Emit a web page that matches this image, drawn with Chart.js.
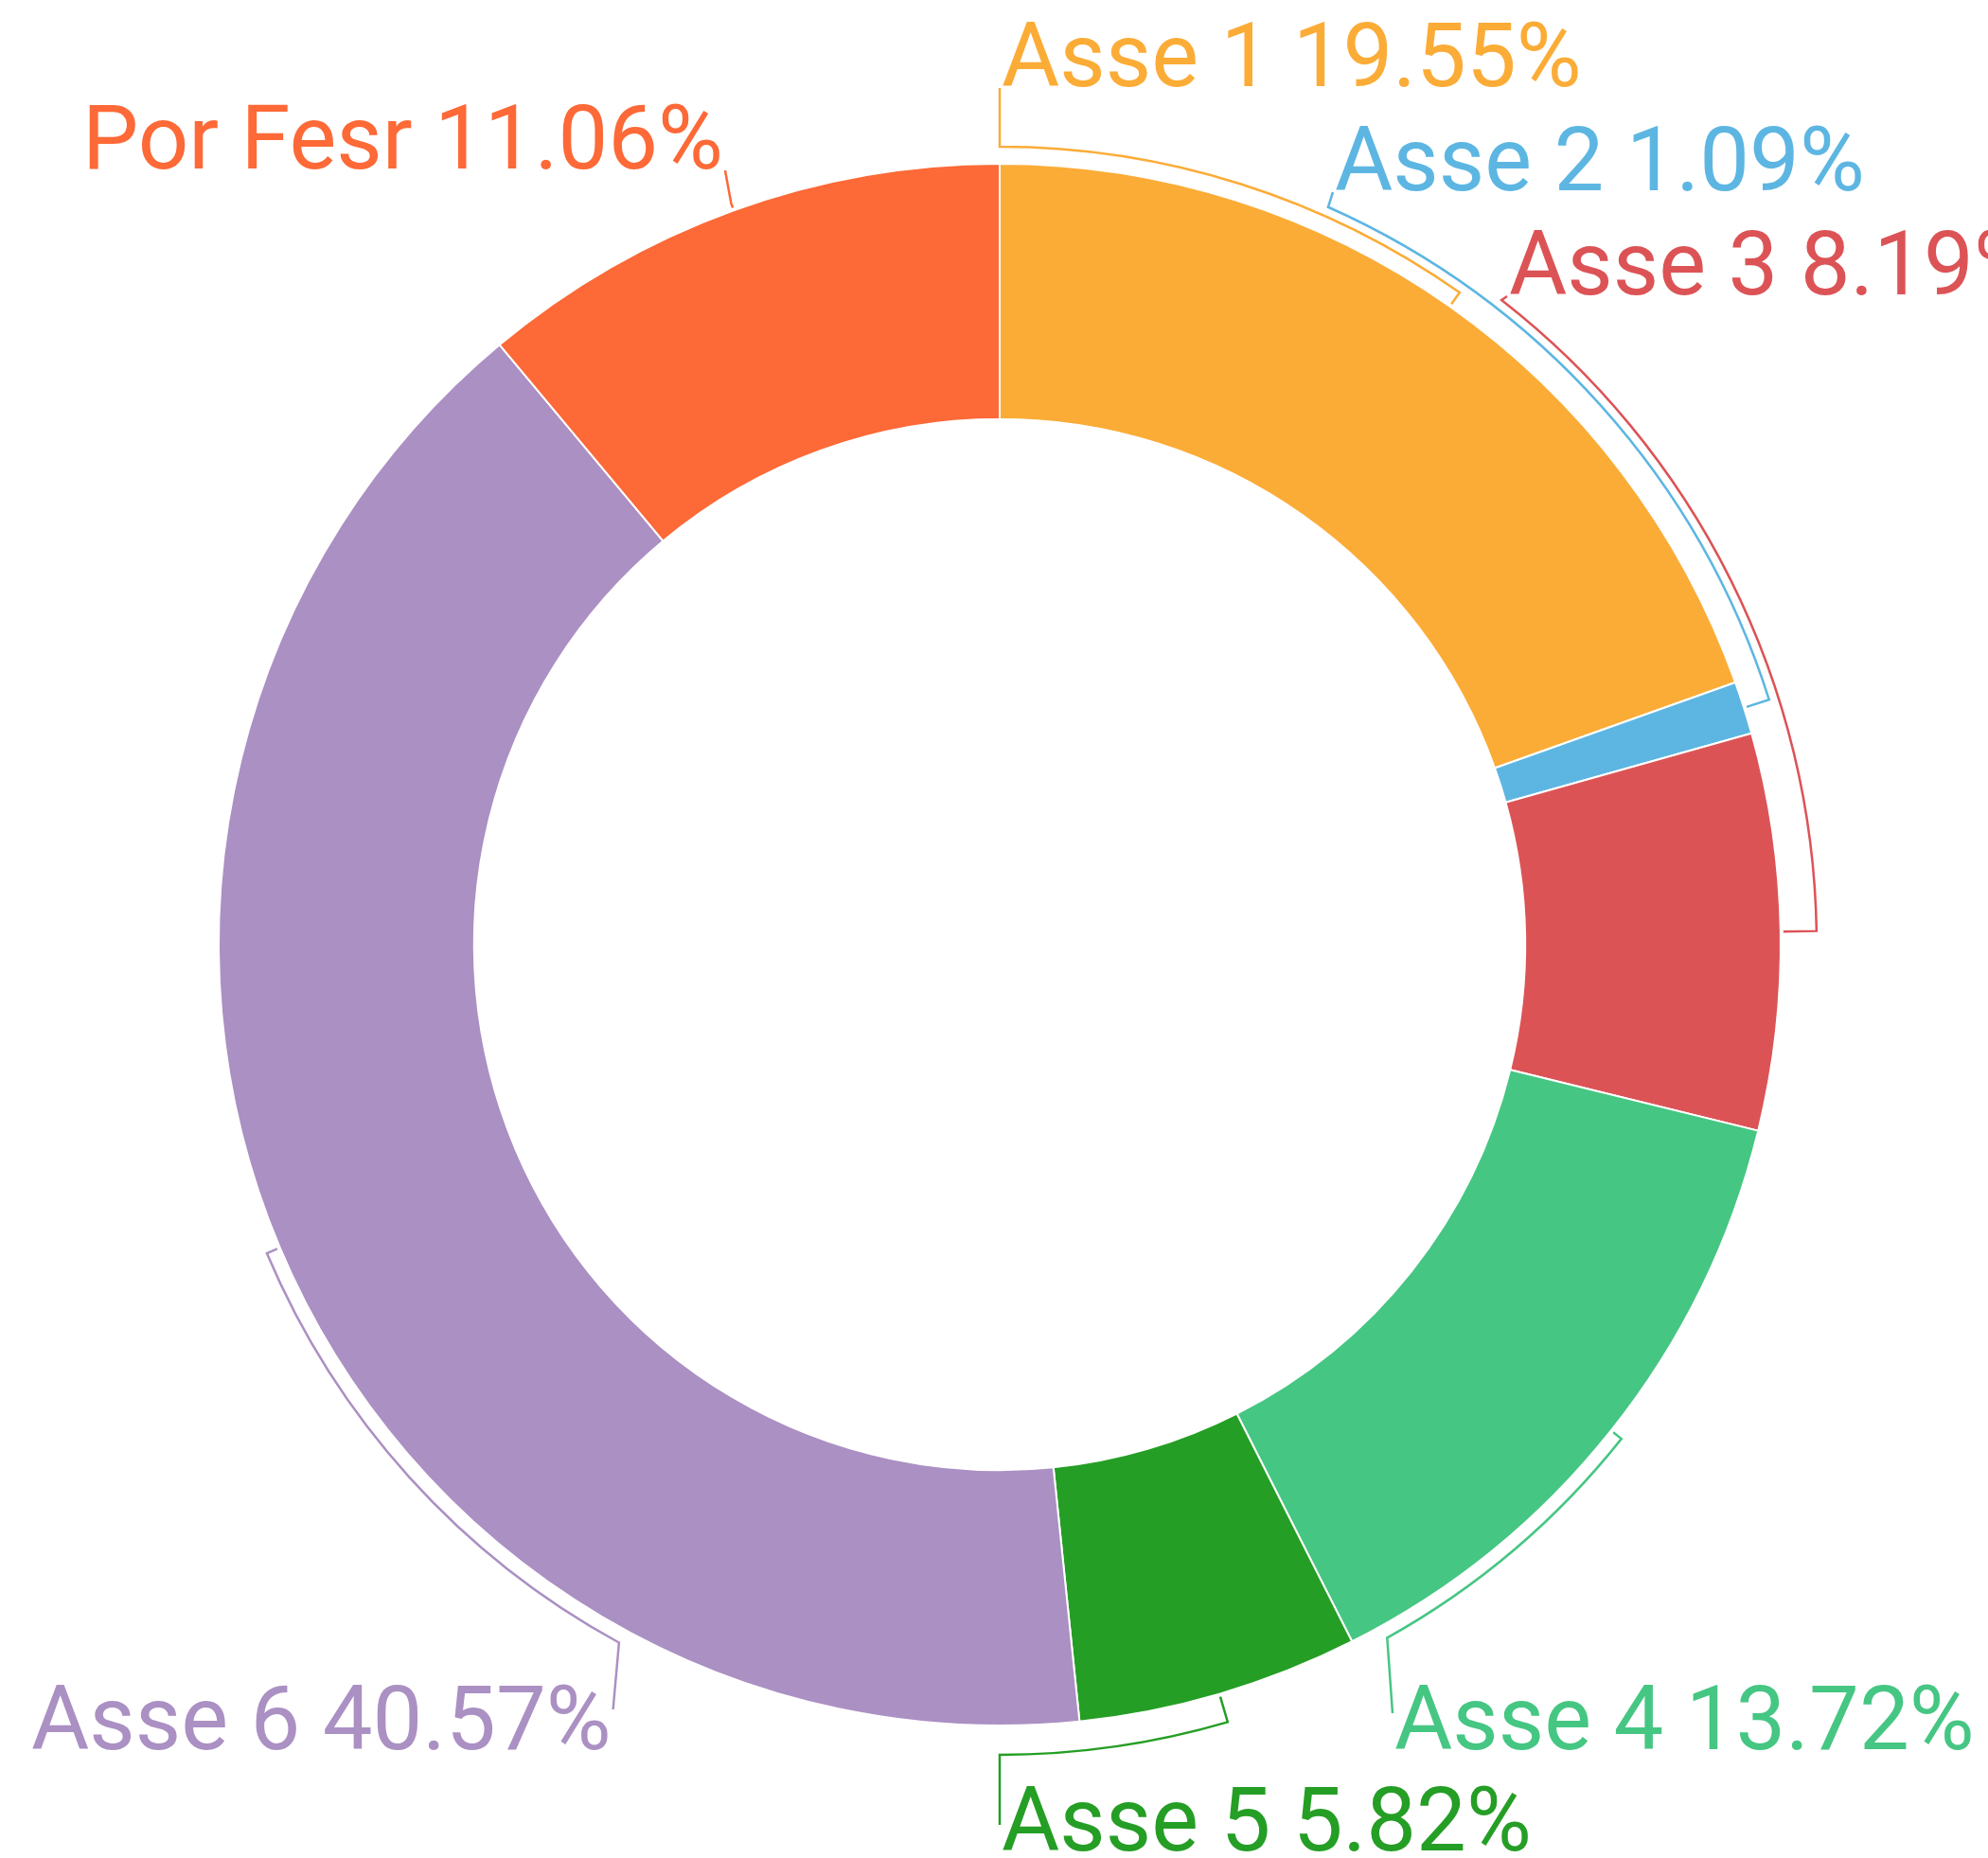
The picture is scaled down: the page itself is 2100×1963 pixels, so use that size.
<!DOCTYPE html>
<html>
<head>
    <style>
        html, body {
            margin: 0;
            padding: 0;
            background: #ffffff;
        }
        #wrap {
            width: 2100px;
            height: 1963px;
            position: relative;
        }
    </style>
    <script src="https://cdn.jsdelivr.net/npm/chart.js"></script>
</head>
<body>
    <div id="wrap"><canvas id="myChart"></canvas></div>
    <script>
        var labels = ['Asse 1', 'Asse 2', 'Asse 3', 'Asse 4', 'Asse 5', 'Asse 6', 'Por Fesr'];
        var values = [19.55, 1.09, 8.19, 13.72, 5.82, 40.57, 11.06];
        var colors = ['#fbac37', '#5db6e2', '#dc5356', '#46c683', '#259e25', '#ab90c3', '#fd6937'];

        // where each label sits: angle of the bracket end (deg from 12 o'clock, null = slice middle),
        // gap of the bracket from the ring, text position, and which side of the text the leader hits
        var labelAt = [
            {angle: 0,     gap: 18, x: 1058, y: 91,   side: 'left',  dy: 2},
            {angle: 24,    gap: 28, x: 1410, y: 201,  side: 'left',  dy: 2},
            {angle: 37.9,  gap: 38, x: 1594, y: 311,  side: 'left',  dy: 2},
            {angle: 150.8, gap: 14, x: 1473, y: 1848, side: 'left',  dy: -38},
            {angle: 180,   gap: 31, x: 1058, y: 1955, side: 'left',  dy: -27},
            {angle: 208.6, gap: 15, x: 33,   y: 1848, side: 'right', dy: -42},
            {angle: null,  gap: 8,  x: 87,   y: 178,  side: 'right', dy: 2}
        ];

        var bracketLabels = {
            id: 'bracketLabels',
            afterDatasetsDraw: function(chart) {
                var ctx = chart.ctx;
                var arcs = chart.getDatasetMeta(0).data;
                ctx.save();
                ctx.font = '400 94px Roboto';
                ctx.lineWidth = 2.5;
                ctx.lineJoin = 'miter';
                arcs.forEach(function(arc, i) {
                    var p = arc.getProps(['x', 'y', 'startAngle', 'endAngle', 'outerRadius'], true);
                    var cfg = labelAt[i];
                    var mid = (p.startAngle + p.endAngle) / 2;
                    var end = cfg.angle === null ? mid : -Math.PI / 2 + cfg.angle * Math.PI / 180;
                    var r = p.outerRadius + cfg.gap;
                    var r0 = p.outerRadius + 3;
                    var text = labels[i] + ' ' + values[i].toFixed(2) + '%';
                    var w = ctx.measureText(text).width;
                    var lx = cfg.side === 'left' ? cfg.x - 2 : cfg.x + w + 2;
                    var ly = cfg.y + cfg.dy;

                    ctx.strokeStyle = colors[i];
                    ctx.beginPath();
                    ctx.moveTo(p.x + r0 * Math.cos(mid), p.y + r0 * Math.sin(mid));
                    ctx.lineTo(p.x + r * Math.cos(mid), p.y + r * Math.sin(mid));
                    ctx.arc(p.x, p.y, r, mid, end, end < mid);
                    ctx.lineTo(lx, ly);
                    ctx.stroke();

                    ctx.fillStyle = colors[i];
                    ctx.textBaseline = 'alphabetic';
                    ctx.fillText(text, cfg.x, cfg.y);
                });
                ctx.restore();
            }
        };

        function draw() {
            var ctx = document.getElementById('myChart').getContext('2d');
            new Chart(ctx, {
                type: 'doughnut',
                data: {
                    labels: labels,
                    datasets: [{
                        data: values,
                        backgroundColor: colors,
                        borderColor: '#ffffff',
                        borderWidth: 2,
                        hoverBorderWidth: 2,
                        hoverOffset: 0,
                        offset: 0
                    }]
                },
                options: {
                    responsive: true,
                    maintainAspectRatio: false,
                    animation: false,
                    cutout: '67.3%',
                    layout: {
                        padding: {left: 230, top: 172, right: 218, bottom: 139}
                    },
                    plugins: {
                        legend: {display: false},
                        tooltip: {enabled: false}
                    }
                },
                plugins: [bracketLabels]
            });
        }

        if (document.fonts && document.fonts.load) {
            document.fonts.load('400 94px Roboto').then(draw, draw);
        } else {
            draw();
        }
    </script>
</body>
</html>
